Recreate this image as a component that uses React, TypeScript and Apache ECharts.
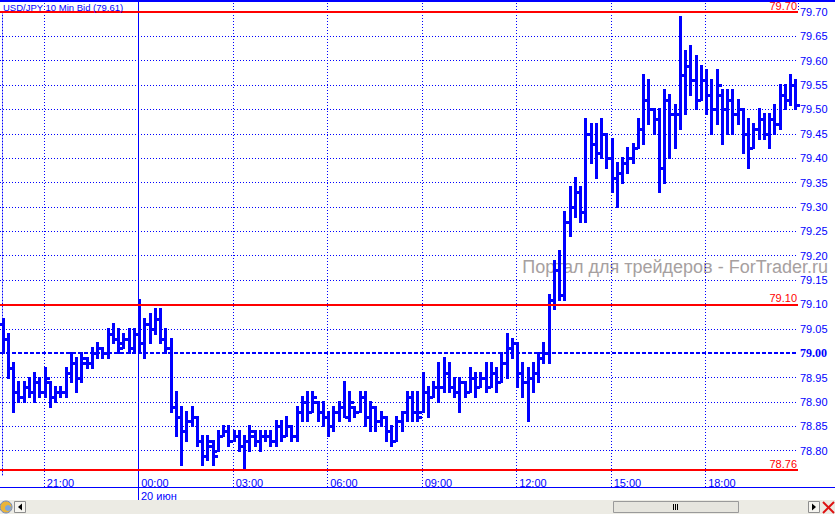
import React, { useEffect, useRef } from "react";
import * as echarts from "echarts";

// ---- text ----
const title = "USD/JPY 10 Min Bid (79.61)";
const watermark = "Портал для трейдеров - ForTrader.ru";
const dateLabel = "20 июн";

// ---- x-axis ticks (bar index of each 3-hour mark, 10-minute bars) ----
const tickIndex = [8, 26, 44, 62, 80, 98, 116, 134];
const tickLabels = ["21:00", "00:00", "03:00", "06:00", "09:00", "12:00", "15:00", "18:00"];
const dayBreakLabel = "00:00";

// ---- levels ----
const redLevels = [79.7, 79.1, 78.76];
const pivotLevel = 79.0;

// ---- OHLC (10 min bars) ----
const openP = [
  79.06, 79.03, 78.97, 78.92, 78.91, 78.93, 78.92, 78.94, 78.92, 78.94,
  78.91, 78.92, 78.92, 78.96, 78.98, 78.95, 78.98, 78.98, 79.0, 79.01,
  79.0, 79.04, 79.03, 79.02, 79.03, 79.01, 79.04, 79.02, 79.06, 79.05,
  79.07, 79.03, 79.01, 78.89, 78.87, 78.84, 78.86, 78.87, 78.82, 78.79,
  78.81, 78.8, 78.83, 78.84, 78.82, 78.83, 78.81, 78.82, 78.83, 78.82,
  78.83, 78.83, 78.82, 78.85, 78.83, 78.85, 78.83, 78.88, 78.9, 78.88,
  78.9, 78.88, 78.87, 78.85, 78.88, 78.89, 78.87, 78.89, 78.88, 78.91,
  78.87, 78.89, 78.86, 78.87, 78.84, 78.82, 78.86, 78.88, 78.91, 78.88,
  78.88, 78.92, 78.91, 78.93, 78.93, 78.96, 78.93, 78.92, 78.94, 78.92,
  78.95, 78.93, 78.95, 78.93, 78.96, 78.94, 78.98, 79.01, 79.02, 78.96,
  78.94, 78.95, 78.96, 78.99, 79.0, 79.11, 79.17, 79.12, 79.27, 79.3,
  79.33, 79.29, 79.45, 79.43, 79.41, 79.45, 79.4, 79.36, 79.37, 79.39,
  79.4, 79.42, 79.46, 79.52, 79.5, 79.48, 79.38, 79.52, 79.49, 79.49,
  79.57, 79.59, 79.56, 79.52, 79.56, 79.53, 79.5, 79.53, 79.5, 79.52,
  79.49, 79.5, 79.45, 79.42, 79.46, 79.48, 79.45, 79.48, 79.47, 79.53,
  79.52, 79.55,
];
const highP = [
  79.07, 79.04, 78.98, 78.94, 78.94, 78.95, 78.96, 78.95, 78.97, 78.94,
  78.93, 78.93, 78.97, 79.0, 78.99, 79.0, 78.99, 79.01, 79.02, 79.01,
  79.05, 79.06, 79.05, 79.04, 79.05, 79.05, 79.11, 79.07, 79.08, 79.09,
  79.09, 79.05, 79.03, 78.92, 78.89, 78.88, 78.89, 78.87, 78.83, 78.83,
  78.82, 78.84, 78.85, 78.85, 78.84, 78.84, 78.83, 78.85, 78.84, 78.84,
  78.84, 78.84, 78.86, 78.86, 78.87, 78.85, 78.89, 78.91, 78.92, 78.92,
  78.9, 78.9, 78.88, 78.89, 78.9, 78.94, 78.92, 78.89, 78.92, 78.92,
  78.9, 78.89, 78.88, 78.87, 78.85, 78.87, 78.88, 78.92, 78.92, 78.92,
  78.96, 78.93, 78.94, 78.98, 78.99, 78.98, 78.95, 78.95, 78.94, 78.97,
  78.96, 78.96, 78.98, 78.98, 78.97, 79.0, 79.04, 79.03, 79.02, 78.98,
  78.97, 78.98, 79.0, 79.02, 79.12, 79.19, 79.21, 79.29, 79.34, 79.36,
  79.34, 79.48, 79.47, 79.47, 79.48, 79.45, 79.44, 79.39, 79.4, 79.42,
  79.43, 79.48, 79.57, 79.56, 79.5, 79.5, 79.54, 79.53, 79.51, 79.69,
  79.62, 79.63, 79.61, 79.59, 79.58, 79.56, 79.58, 79.54, 79.54, 79.54,
  79.52, 79.5, 79.48, 79.47, 79.5, 79.49, 79.49, 79.51, 79.55, 79.55,
  79.57, 79.56,
];
const lowP = [
  79.0, 78.95, 78.88, 78.9, 78.9, 78.91, 78.9, 78.91, 78.91, 78.89,
  78.9, 78.91, 78.91, 78.94, 78.92, 78.94, 78.97, 78.97, 78.99, 78.99,
  78.99, 79.02, 79.0, 79.01, 79.0, 79.0, 79.0, 78.99, 79.02, 79.04,
  79.02, 79.0, 78.88, 78.83, 78.77, 78.82, 78.85, 78.81, 78.77, 78.78,
  78.77, 78.8, 78.83, 78.81, 78.82, 78.8, 78.76, 78.8, 78.81, 78.8,
  78.82, 78.81, 78.81, 78.82, 78.83, 78.82, 78.82, 78.86, 78.86, 78.88,
  78.86, 78.85, 78.83, 78.84, 78.86, 78.87, 78.86, 78.87, 78.88, 78.85,
  78.84, 78.84, 78.85, 78.82, 78.81, 78.82, 78.84, 78.86, 78.86, 78.86,
  78.88, 78.87, 78.91, 78.9, 78.92, 78.92, 78.91, 78.88, 78.91, 78.92,
  78.91, 78.93, 78.92, 78.93, 78.92, 78.94, 78.95, 78.99, 78.93, 78.91,
  78.86, 78.92, 78.94, 78.98, 78.98, 79.09, 79.11, 79.11, 79.24, 79.28,
  79.27, 79.27, 79.39, 79.36, 79.4, 79.38, 79.33, 79.3, 79.35, 79.37,
  79.39, 79.42, 79.43, 79.47, 79.45, 79.33, 79.35, 79.4, 79.42, 79.46,
  79.49, 79.53, 79.5, 79.52, 79.49, 79.45, 79.47, 79.43, 79.45, 79.45,
  79.47, 79.41, 79.38, 79.42, 79.44, 79.44, 79.42, 79.45, 79.46, 79.5,
  79.51, 79.5,
];
const closeP = [
  79.03, 78.97, 78.92, 78.91, 78.93, 78.92, 78.94, 78.92, 78.95, 78.91,
  78.92, 78.92, 78.96, 78.98, 78.95, 78.99, 78.98, 79.0, 79.01, 79.0,
  79.04, 79.03, 79.01, 79.03, 79.01, 79.04, 79.02, 79.06, 79.05, 79.07,
  79.03, 79.01, 78.89, 78.87, 78.84, 78.86, 78.87, 78.82, 78.79, 78.82,
  78.79, 78.83, 78.84, 78.82, 78.83, 78.81, 78.82, 78.84, 78.82, 78.83,
  78.83, 78.82, 78.85, 78.83, 78.85, 78.83, 78.88, 78.9, 78.88, 78.91,
  78.88, 78.87, 78.85, 78.88, 78.89, 78.87, 78.9, 78.88, 78.91, 78.87,
  78.89, 78.86, 78.87, 78.84, 78.82, 78.86, 78.88, 78.91, 78.88, 78.87,
  78.92, 78.91, 78.93, 78.93, 78.96, 78.93, 78.92, 78.94, 78.92, 78.95,
  78.93, 78.95, 78.93, 78.96, 78.94, 78.98, 79.01, 79.02, 78.96, 78.94,
  78.95, 78.96, 78.99, 79.0, 79.11, 79.17, 79.12, 79.27, 79.3, 79.33,
  79.29, 79.45, 79.43, 79.41, 79.45, 79.4, 79.36, 79.37, 79.39, 79.4,
  79.42, 79.46, 79.52, 79.5, 79.48, 79.38, 79.52, 79.49, 79.49, 79.57,
  79.59, 79.56, 79.52, 79.56, 79.53, 79.5, 79.55, 79.5, 79.52, 79.49,
  79.5, 79.45, 79.42, 79.46, 79.48, 79.45, 79.48, 79.47, 79.53, 79.52,
  79.55, 79.51,
];

const BLUE = "#0000ff";
const RED = "#ff0000";
const FONT = "'Liberation Sans', Arial, sans-serif";

export default function App() {
  const ref = useRef<HTMLDivElement>(null);

  useEffect(() => {
    document.body.style.margin = "0";
    const chart = echarts.init(ref.current!, null, { renderer: "svg" });
    const bars = openP.map((o, i) => [i, o, highP[i], lowP[i], closeP[i]]);
    const vLines = tickIndex.map((v, k) => [v, pivotLevel, tickLabels[k] === dayBreakLabel ? 1 : 0]);

    const option: any = {
      animation: false,
      backgroundColor: "#ffffff",
      grid: { left: 0, right: 37, top: 12, bottom: 39, containLabel: false, outerBoundsMode: "none" },
      xAxis: {
        type: "value",
        min: -0.5,
        max: 151.5,
        axisLine: { show: false },
        axisTick: { show: false },
        splitLine: { show: false },
        axisLabel: {
          customValues: tickIndex,
          formatter: (v: number) => {
            const k = tickIndex.indexOf(Math.round(v));
            return k >= 0 ? tickLabels[k] : "";
          },
          color: BLUE,
          fontSize: 11,
          fontFamily: FONT,
          align: "left",
          margin: 2,
          padding: [0, 0, 0, 2],
          hideOverlap: false,
        },
      },
      yAxis: {
        type: "value",
        position: "right",
        min: 78.75,
        max: 79.7,
        interval: 0.05,
        axisLine: { show: true, lineStyle: { color: BLUE, type: [1, 2], width: 1 } },
        axisTick: { show: false },
        splitLine: { show: true, showMinLine: false, lineStyle: { color: BLUE, type: [1, 2], width: 1 } },
        axisLabel: {
          color: BLUE,
          fontSize: 11,
          fontFamily: FONT,
          margin: 2,
          showMinLabel: false,
          formatter: (v: number) =>
            Math.abs(v - pivotLevel) < 1e-6 ? `{b|${v.toFixed(2)}}` : v.toFixed(2),
          rich: {
            b: {
              fontFamily: "'Liberation Serif', 'Times New Roman', serif",
              fontWeight: "bold",
              fontSize: 12,
              color: BLUE,
            },
          },
        },
      },
      series: [
        {
          type: "custom",
          name: "timeGrid",
          silent: true,
          z: 1,
          data: vLines,
          encode: { x: 0, y: 1 },
          renderItem: (params: any, api: any) => {
            const p = api.coord([api.value(0), api.value(1)]);
            const x = Math.round(p[0]) - 0.5;
            const solid = api.value(2) === 1;
            return {
              type: "line",
              shape: { x1: x, y1: 0, x2: x, y2: solid ? 500 : 487 },
              style: { stroke: BLUE, lineWidth: 1, lineDash: solid ? null : [1, 2] },
            };
          },
        },
        {
          type: "line",
          name: "levels",
          data: [],
          silent: true,
          z: 2,
          markLine: {
            silent: true,
            symbol: ["none", "none"],
            animation: false,
            data: [
              ...redLevels.map((v) => ({
                yAxis: v,
                lineStyle: { color: RED, width: 2, type: "solid" },
                label: {
                  show: true,
                  position: "insideEndTop",
                  formatter: v.toFixed(2),
                  color: RED,
                  fontSize: 11,
                  fontFamily: FONT,
                  distance: [1, 1],
                },
              })),
              {
                yAxis: pivotLevel,
                lineStyle: { color: BLUE, width: 2, type: [4, 2] },
                label: { show: false },
              },
            ],
          },
        },
        {
          type: "custom",
          name: "USD/JPY",
          z: 3,
          data: bars,
          encode: { x: 0, y: [1, 2, 3, 4] },
          renderItem: (params: any, api: any) => {
            const i = api.value(0);
            const pO = api.coord([i, api.value(1)]);
            const pH = api.coord([i, api.value(2)]);
            const pL = api.coord([i, api.value(3)]);
            const pC = api.coord([i, api.value(4)]);
            const x = Math.round(pH[0]);
            const yH = Math.round(pH[1]);
            const yL = Math.round(pL[1]);
            const yO = Math.round(pO[1]);
            const yC = Math.round(pC[1]);
            return {
              type: "group",
              children: [
                { type: "rect", shape: { x: x - 1, y: yH - 1, width: 3, height: yL - yH + 2 }, style: { fill: BLUE } },
                { type: "rect", shape: { x: x - 4, y: yO - 1, width: 3, height: 3 }, style: { fill: BLUE } },
                { type: "rect", shape: { x: x + 2, y: yC - 1, width: 3, height: 3 }, style: { fill: BLUE } },
              ],
            };
          },
        },
      ],
      graphic: [
        {
          type: "text",
          z: 0,
          silent: true,
          x: 828,
          y: 267,
          style: {
            text: watermark,
            fill: "#a6a0a0",
            fontSize: 18,
            fontFamily: FONT,
            align: "right",
            verticalAlign: "middle",
          },
        },
        { type: "rect", z: 50, shape: { x: 0, y: 0, width: 835, height: 2 }, style: { fill: BLUE } },
        {
          type: "line",
          z: 50,
          shape: { x1: 798.5, y1: 0, x2: 798.5, y2: 12 },
          style: { stroke: BLUE, lineWidth: 1, lineDash: [1, 2] },
        },
        {
          type: "text",
          z: 50,
          x: 3,
          y: 2,
          style: { text: title, fill: BLUE, fontSize: 9.5, fontFamily: FONT, verticalAlign: "top" },
        },
        {
          type: "line",
          z: 50,
          shape: { x1: 0, y1: 487.5, x2: 835, y2: 487.5 },
          style: { stroke: BLUE, lineWidth: 1 },
        },
        {
          type: "text",
          z: 50,
          x: 141,
          y: 490,
          style: { text: dateLabel, fill: BLUE, fontSize: 11, fontFamily: FONT, verticalAlign: "top" },
        },
        // bottom scroll strip
        { type: "rect", z: 60, shape: { x: 0, y: 500, width: 835, height: 14 }, style: { fill: "#ecebe4" } },
        { type: "circle", z: 61, shape: { cx: 6, cy: 507, r: 6 }, style: { fill: "#e9b43a", stroke: "#6a88c8", lineWidth: 1 } },
        { type: "circle", z: 62, shape: { cx: 8, cy: 508, r: 3 }, style: { fill: "#7aa6e0" } },
        { type: "rect", z: 61, shape: { x: 14.5, y: 501.5, width: 11, height: 11 }, style: { fill: "#f6f5f0", stroke: "#8e8e8e", lineWidth: 1 } },
        { type: "polygon", z: 62, shape: { points: [[18, 507], [22, 503.5], [22, 510.5]] }, style: { fill: "#000000" } },
        { type: "rect", z: 61, shape: { x: 613.5, y: 501.5, width: 125, height: 11 }, style: { fill: "#e6e5de", stroke: "#9a9a9a", lineWidth: 1 } },
        { type: "line", z: 62, shape: { x1: 673.5, y1: 504, x2: 673.5, y2: 510 }, style: { stroke: "#000000", lineWidth: 1 } },
        { type: "line", z: 62, shape: { x1: 675.5, y1: 504, x2: 675.5, y2: 510 }, style: { stroke: "#000000", lineWidth: 1 } },
        { type: "line", z: 62, shape: { x1: 677.5, y1: 504, x2: 677.5, y2: 510 }, style: { stroke: "#000000", lineWidth: 1 } },
        { type: "rect", z: 61, shape: { x: 808.5, y: 501.5, width: 11, height: 11 }, style: { fill: "#f6f5f0", stroke: "#8e8e8e", lineWidth: 1 } },
        { type: "polygon", z: 62, shape: { points: [[816, 507], [812, 503.5], [812, 510.5]] }, style: { fill: "#000000" } },
        { type: "line", z: 62, shape: { x1: 823, y1: 502, x2: 834, y2: 513 }, style: { stroke: "#dd1111", lineWidth: 2 } },
        { type: "line", z: 62, shape: { x1: 834, y1: 502, x2: 823, y2: 513 }, style: { stroke: "#dd1111", lineWidth: 2 } },
      ],
    };

    chart.setOption(option);
    return () => chart.dispose();
  }, []);

  return (
    <div
      ref={ref}
      style={{ position: "fixed", left: 0, top: 0, width: 835, height: 514, background: "#ffffff" }}
    />
  );
}
